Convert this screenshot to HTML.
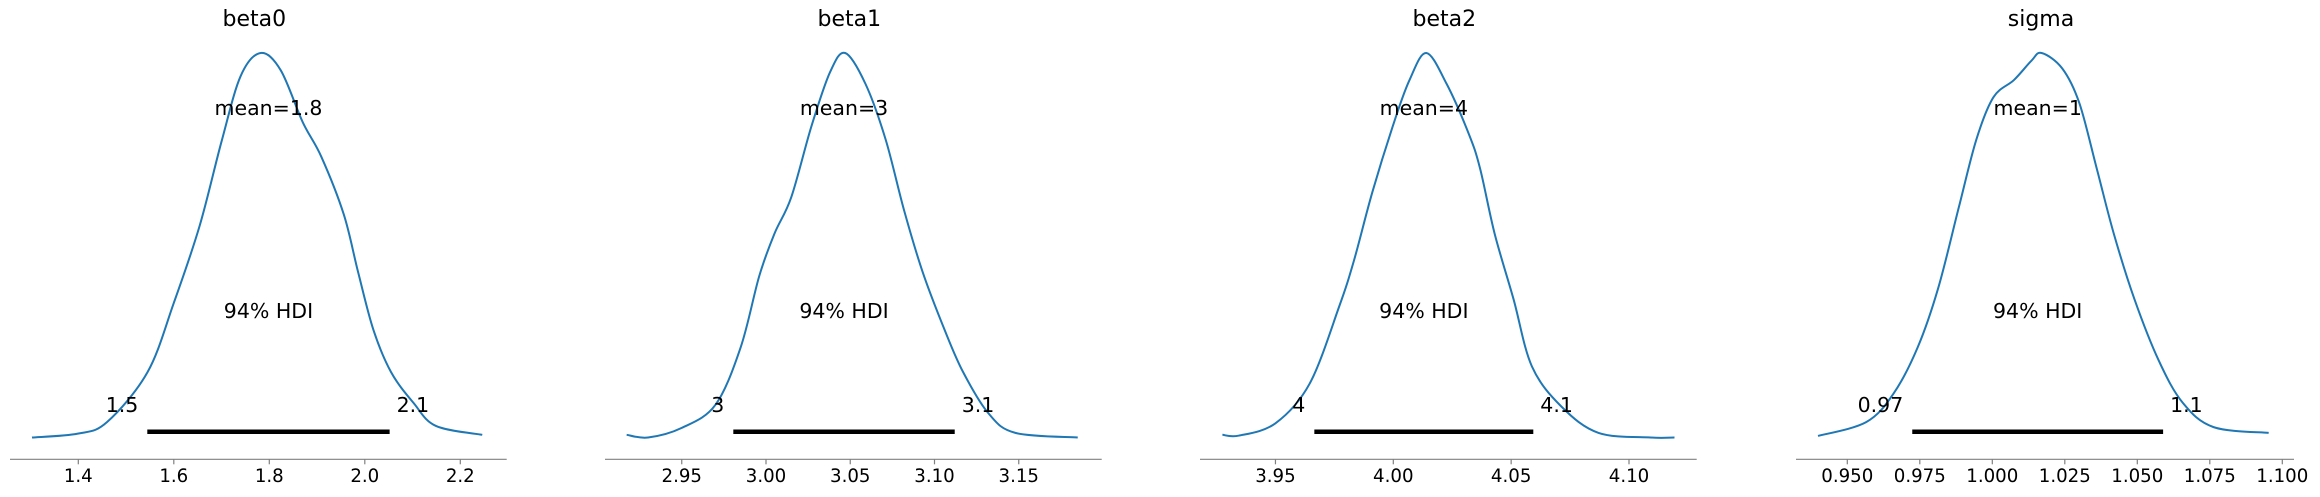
<!DOCTYPE html>
<html><head><meta charset="utf-8"><style>
html,body{margin:0;padding:0;background:#fff;}
svg{display:block;font-family:"DejaVu Sans","Liberation Sans",sans-serif;}
</style></head><body>
<svg id="chart" width="2320" height="497" viewBox="0 0 2320 497" xmlns="http://www.w3.org/2000/svg"></svg>
<script>
const titles = ["beta0","beta1","beta2","sigma"];
const meanLabels = ["mean=1.8","mean=3","mean=4","mean=1"];
const hdiLow = [1.5445, 2.9806, 3.9665, 0.9724];
const hdiHigh = [2.052, 3.112, 4.0594, 1.0589];
const hdiLowLabels = ["1.5","3","4","0.97"];
const hdiHighLabels = ["2.1","3.1","4.1","1.1"];
const tickVals0 = [1.4,1.6,1.8,2.0,2.2];
const tickLabels0 = ["1.4","1.6","1.8","2.0","2.2"];
const tickVals1 = [2.95,3.00,3.05,3.10,3.15];
const tickLabels1 = ["2.95","3.00","3.05","3.10","3.15"];
const tickVals2 = [3.95,4.00,4.05,4.10];
const tickLabels2 = ["3.95","4.00","4.05","4.10"];
const tickVals3 = [0.950,0.975,1.000,1.025,1.050,1.075,1.100];
const tickLabels3 = ["0.950","0.975","1.000","1.025","1.050","1.075","1.100"];
const kdeX0 = [1.303,1.399,1.46,1.545,1.60,1.654,1.70,1.74,1.782,1.824,1.87,1.909,1.956,1.986,2.018,2.055,2.102,2.149,2.246];
const kdeY0 = [0.0,0.01,0.04,0.17,0.35,0.55,0.77,0.94,1.0,0.955,0.82,0.73,0.58,0.43,0.28,0.17,0.09,0.03,0.007];
const kdeX1 = [2.9173,2.930,2.950,2.970,2.985,2.996,3.005,3.015,3.027,3.038,3.047,3.059,3.071,3.082,3.093,3.106,3.117,3.132,3.148,3.185];
const kdeY1 = [0.007,0.0,0.025,0.085,0.235,0.42,0.53,0.625,0.81,0.95,1.0,0.92,0.775,0.59,0.43,0.28,0.17,0.063,0.012,0.0];
const kdeX2 = [3.9275,3.9346,3.950,3.9645,3.977,3.9833,3.9912,4.0006,4.0069,4.014,4.0226,4.032,4.0368,4.043,4.051,4.0588,4.0714,4.0871,4.1091,4.1193];
const kdeY2 = [0.007,0.005,0.037,0.14,0.34,0.46,0.64,0.825,0.93,1.0,0.92,0.79,0.70,0.53,0.36,0.185,0.08,0.012,0.0,0.0];
const kdeX3 = [0.9399,0.9565,0.966,0.9743,0.9814,0.9885,0.9945,1.0004,1.0075,1.0135,1.017,1.0241,1.0300,1.036,1.0419,1.049,1.0574,1.0657,1.0763,1.0953];
const kdeY3 = [0.004,0.04,0.115,0.235,0.39,0.60,0.775,0.885,0.93,0.98,1.0,0.96,0.87,0.70,0.53,0.36,0.20,0.09,0.027,0.012];

const axes = [
  {l:10, r:506.7, v0:1.4, p0:78.3, k:477.5},
  {l:605, r:1101.7, v0:3.00, p0:766, k:1685},
  {l:1200, r:1696.7, v0:4.00, p0:1393.3, k:2357},
  {l:1796, r:2294, v0:0.95, p0:1847.3, k:2900}
];
const ticks = [[tickVals0,tickLabels0],[tickVals1,tickLabels1],[tickVals2,tickLabels2],[tickVals3,tickLabels3]];
const kdes = [[kdeX0,kdeY0],[kdeX1,kdeY1],[kdeX2,kdeY2],[kdeX3,kdeY3]];
const BASE = 437.5, PEAK = 53, AXY = 459.3;
const NS = "http://www.w3.org/2000/svg";
const svg = document.getElementById('chart');
function mk(tag, attrs, parent){ const e=document.createElementNS(NS,tag); for(const k in attrs) e.setAttribute(k,attrs[k]); (parent||svg).appendChild(e); return e; }
function txt(s, attrs, parent){ const e=mk('text',attrs,parent); e.textContent=s; return e; }

for(let i=0;i<4;i++){
  const a = axes[i];
  const xs = v => a.p0 + (v - a.v0)*a.k;
  const ys = d => BASE - d*(BASE-PEAK);
  const g = mk('g',{});
  
  
  const cx = (a.l+a.r)/2;
  const t = txt(titles[i],{x:cx-4,y:26,'font-size':22,'text-anchor':'middle',fill:'#000'},g);
  
  
  const ax = mk('line',{x1:a.l,x2:a.r,y1:AXY,y2:AXY,stroke:'#808080','stroke-width':1.2},g);
  
  
  const [tv,tl] = ticks[i];
  tv.forEach((v,j)=>{
    const x = xs(v);
    const tk = mk('line',{x1:x,x2:x,y1:AXY,y2:AXY+5,stroke:'#808080','stroke-width':1.2},g);
    
    
    const lb = txt(tl[j],{x:x,y:482,'font-size':18.2,'text-anchor':'middle',fill:'#000'},g);
    
    
  });
  const [kx,ky] = kdes[i];
  const pts = kx.map((v,j)=>[xs(v), ys(ky[j])]);
  let d = 'M'+pts[0][0]+','+pts[0][1];
  for(let j=0;j<pts.length-1;j++){
    const p0=pts[Math.max(j-1,0)], p1=pts[j], p2=pts[j+1], p3=pts[Math.min(j+2,pts.length-1)];
    const c1=[p1[0]+(p2[0]-p0[0])/6, p1[1]+(p2[1]-p0[1])/6];
    const c2=[p2[0]-(p3[0]-p1[0])/6, p2[1]-(p3[1]-p1[1])/6];
    d += ` C${c1[0]},${c1[1]} ${c2[0]},${c2[1]} ${p2[0]},${p2[1]}`;
  }
  const path = mk('path',{d:d,fill:'none',stroke:'#1f77b4','stroke-width':2},g);
  
  
  const hl = xs(hdiLow[i]), hh = xs(hdiHigh[i]);
  const bar = mk('line',{x1:hl,x2:hh,y1:431.7,y2:431.7,stroke:'#000','stroke-width':4.5},g);
  
  
  const l1 = txt(hdiLowLabels[i],{x:hl-9,y:412,'font-size':20.5,'text-anchor':'end',fill:'#000'},g);
  
  
  const l2 = txt(hdiHighLabels[i],{x:hh+7,y:412,'font-size':20.5,'text-anchor':'start',fill:'#000'},g);
  
  
  const mid = (hl+hh)/2;
  const hd = txt('94% HDI',{x:mid,y:318,'font-size':20.5,'text-anchor':'middle',fill:'#000'},g);
  
  
  const ml = txt(meanLabels[i],{x:mid,y:115,'font-size':20.5,'text-anchor':'middle',fill:'#000'},g);
  
  
}
</script>
</body></html>
